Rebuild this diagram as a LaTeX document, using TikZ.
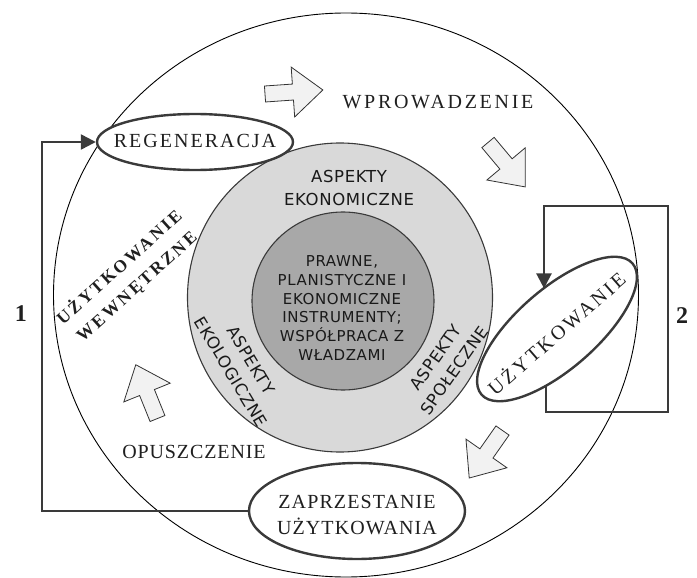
\documentclass[tikz,border=0pt]{standalone}
\usepackage{fontspec}
\setmainfont{Liberation Serif}
\newfontfamily\serifplain{Liberation Serif}
\newfontfamily\serifbold[LetterSpace=15]{Liberation Serif}
\newfontfamily\sansls[LetterSpace=4]{DejaVu Sans}
\usetikzlibrary{shapes.geometric,arrows.meta}
\definecolor{ringgray}{HTML}{D9D9D9}
\definecolor{coregray}{HTML}{A8A8A8}
\definecolor{linedark}{HTML}{3A3A3A}
\definecolor{arrowfill}{HTML}{F2F2F2}
\newcommand{\lsp}[1]{\addfontfeature{LetterSpace=#1}}
\tikzset{
  ring/.style={ellipse, draw=linedark, line width=1.1pt, inner sep=0pt},
  oval/.style={ellipse, draw=linedark, line width=2.4pt, fill=white, inner sep=0pt},
  stage/.style={font=\serifplain\fontsize{20}{26}\selectfont, text=black!88, inner sep=0pt, align=center},
  inuse/.style={font=\serifbold\bfseries\fontsize{17.5}{26}\selectfont, text=black!88, inner sep=0pt, align=center},
  aspect/.style={font=\sansls\fontsize{16.5}{23}\selectfont, text=black!90, inner sep=0pt, align=center},
  coretext/.style={font=\sansls\fontsize{15}{18.7}\selectfont, text=black!90, inner sep=0pt, align=center},
  num/.style={font=\bfseries\fontsize{24}{24}\selectfont, text=black!88, inner sep=0pt},
  conn/.style={draw=linedark, line width=2.4pt},
  bigtip/.style={-{Triangle[length=15pt,width=15pt]}},
  blockarrow/.pic={\draw[draw=black!80, line width=0.8pt, fill=arrowfill, line join=miter]
     (0,-8) -- (28,-8) -- (28,-25) -- (58,0) -- (28,25) -- (28,8) -- (0,8) -- cycle;}
}
\begin{document}
\begin{tikzpicture}[x=1pt, y=-1pt]
\useasboundingbox (0,0) rectangle (697,578);
% circles
\node[ellipse, draw=black, line width=0.9pt, minimum width=585pt, minimum height=564pt, inner sep=0pt] (outer) at (346,295) {};
\node[ring, fill=ringgray, minimum width=305pt, minimum height=309pt] (mid) at (340,297.5) {};
\node[ring, fill=coregray, minimum width=182pt, minimum height=178pt] (core) at (343,301) {};
% ring and core texts
\node[aspect] (eko-t) at (349,188) {ASPEKTY\\EKONOMICZNE};
\node[aspect, rotate=-59] (ekol-t) at (241,366) {ASPEKTY\\EKOLOGICZNE};
\node[aspect, rotate=55] (spo-t) at (445,364) {ASPEKTY\\SPOŁECZNE};
\node[coretext] (core-t) at (342,308) {PRAWNE,\\PLANISTYCZNE I\\EKONOMICZNE\\INSTRUMENTY;\\WSPÓŁPRACA Z\\WŁADZAMI};
% block arrows
\pic[rotate=4] at (265,94) {blockarrow};
\pic[rotate=-50] at (488,142.5) {blockarrow};
\pic[rotate=-125] at (502.5,430.5) {blockarrow};
\pic[rotate=112] at (157.5,418.5) {blockarrow};
% stage ovals
\node[oval, minimum width=196pt, minimum height=56pt] (reg) at (195,142) {};
\node[oval, minimum width=216pt, minimum height=96pt] (zap) at (357,511) {};
\node[oval, rotate=41, minimum width=200pt, minimum height=80pt] (u) at (557,329) {};
% loop 1
\coordinate (c1) at (42,300);
\draw[conn, bigtip] (zap.west) -| (c1) |- (reg.west);
% loop 2
\coordinate (u-bot) at (546,385.8);
\coordinate (u-top) at (544,288.4);
\coordinate (c2a) at (668,412);
\coordinate (c2b) at (544,206);
\draw[conn, bigtip] (u-bot) |- (c2a) |- (c2b) -- (u-top);
% stage labels
\node[stage] (reg-t) at (195,141) {\lsp{10}REGENERACJA};
\node[stage] (zap-t) at (357,515) {\lsp{5.5}ZAPRZESTANIE\\\lsp{5.5}UŻYTKOWANIA};
\node[stage, rotate=41] (u-t) at (556,333) {\lsp{14}UŻYTKOWANIE};
\node[stage] (wpr-t) at (438,102) {\lsp{13.5}WPROWADZENIE};
\node[stage] (opu-t) at (194,452) {\lsp{4.5}OPUSZCZENIE};
\node[inuse, rotate=42] (ww-t) at (128,277) {UŻYTKOWANIE\\WEWNĘTRZNE};
% numbers
\node[num] (n1) at (21,314) {1};
\node[num] (n2) at (682,316) {2};
\end{tikzpicture}
\end{document}
